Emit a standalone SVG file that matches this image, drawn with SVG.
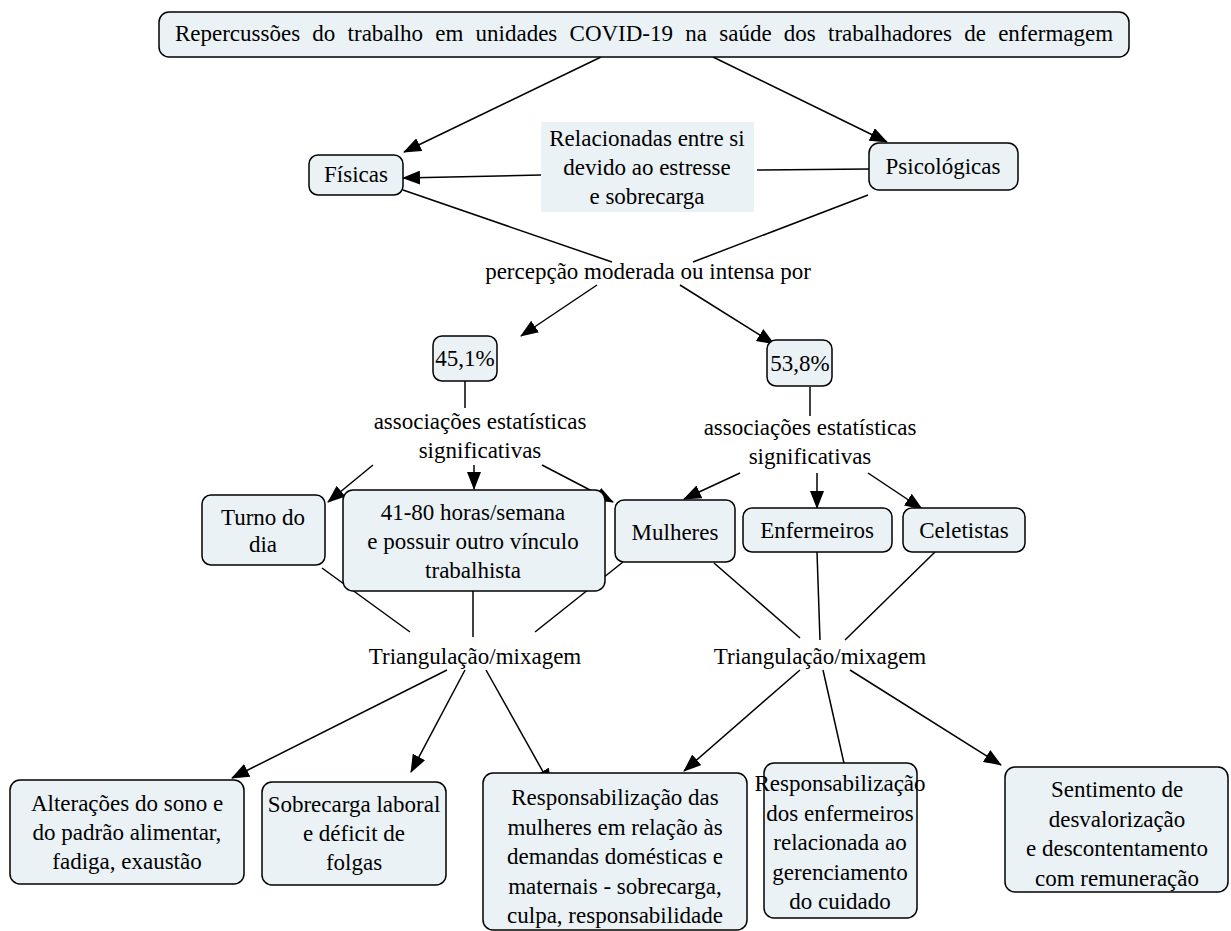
<svg xmlns="http://www.w3.org/2000/svg" width="1231" height="931" viewBox="0 0 1231 931">
<defs>
<marker id="ah" markerUnits="userSpaceOnUse" markerWidth="18" markerHeight="14" refX="17" refY="7" orient="auto">
<path d="M0,0 L18,7 L0,14 Z" fill="#000"/>
</marker>
</defs>
<rect width="1231" height="931" fill="#fff"/>
<g id="connectors" stroke="#000" stroke-width="1.5" fill="none">
<line marker-end="url(#ah)" x1="601" y1="57" x2="404" y2="152"/>
<line marker-end="url(#ah)" x1="713" y1="57" x2="887" y2="142"/>
<line x1="869" y1="169" x2="757" y2="170"/>
<line marker-end="url(#ah)" x1="541" y1="175" x2="403" y2="178"/>
<line x1="403" y1="190" x2="612" y2="262"/>
<line x1="868" y1="195" x2="693" y2="262"/>
<line marker-end="url(#ah)" x1="597" y1="285" x2="521" y2="336"/>
<line marker-end="url(#ah)" x1="680" y1="285" x2="774" y2="344"/>
<line x1="465" y1="381" x2="465" y2="408"/>
<line x1="810" y1="387" x2="810" y2="416"/>
<line marker-end="url(#ah)" x1="373" y1="465" x2="328" y2="502"/>
<line marker-end="url(#ah)" x1="474" y1="465" x2="474" y2="489"/>
<line marker-end="url(#ah)" x1="542" y1="465" x2="613" y2="502"/>
<line marker-end="url(#ah)" x1="740" y1="473" x2="684" y2="499"/>
<line marker-end="url(#ah)" x1="817" y1="473" x2="817" y2="508"/>
<line marker-end="url(#ah)" x1="868" y1="473" x2="922" y2="509"/>
<line x1="322" y1="568" x2="410" y2="632"/>
<line x1="473" y1="590" x2="473" y2="637"/>
<line x1="623" y1="562" x2="535" y2="632"/>
<line x1="714" y1="563" x2="800" y2="638"/>
<line x1="817" y1="552" x2="820" y2="640"/>
<line x1="935" y1="552" x2="845" y2="640"/>
<line marker-end="url(#ah)" x1="447" y1="670" x2="232" y2="778"/>
<line marker-end="url(#ah)" x1="465" y1="670" x2="411" y2="772"/>
<line marker-end="url(#ah)" x1="486" y1="670" x2="551" y2="786"/>
<line marker-end="url(#ah)" x1="800" y1="670" x2="684" y2="771"/>
<line marker-end="url(#ah)" x1="823" y1="670" x2="848" y2="781"/>
<line marker-end="url(#ah)" x1="850" y1="670" x2="1001" y2="765"/>
</g>
<g id="title">
<rect fill="#ebf2f5" stroke="#000" stroke-width="1.5" x="159" y="12" width="970" height="45" rx="10"/>
<text x="644" y="41" style="font-family:'Liberation Serif','Times New Roman',serif;font-size:23px;text-anchor:middle;word-spacing:6.5px">Repercussões do trabalho em unidades COVID-19 na saúde dos trabalhadores de enfermagem</text>
</g>
<g id="fisicas">
<rect fill="#ebf2f5" stroke="#000" stroke-width="1.5" x="309" y="155" width="94" height="40" rx="9"/>
<text x="356" y="182" style="font-family:'Liberation Serif','Times New Roman',serif;font-size:23px;text-anchor:middle">Físicas</text>
</g>
<g id="relacionadas">
<rect x="541" y="122" width="213" height="90" fill="#ebf2f5"/>
<text x="647" y="146" style="font-family:'Liberation Serif','Times New Roman',serif;font-size:23px;text-anchor:middle"><tspan x="647">Relacionadas entre si</tspan><tspan x="647" dy="29">devido ao estresse</tspan><tspan x="647" dy="29">e sobrecarga</tspan></text>
</g>
<g id="psicologicas">
<rect fill="#ebf2f5" stroke="#000" stroke-width="1.5" x="869" y="143" width="149" height="47" rx="10"/>
<text x="943" y="174" style="font-family:'Liberation Serif','Times New Roman',serif;font-size:23px;text-anchor:middle">Psicológicas</text>
</g>
<g id="percepcao">
<text x="648" y="279" style="font-family:'Liberation Serif','Times New Roman',serif;font-size:23px;text-anchor:middle">percepção moderada ou intensa por</text>
</g>
<g id="p451">
<rect fill="#ebf2f5" stroke="#000" stroke-width="1.5" x="433" y="336" width="64" height="45" rx="9"/>
<text x="465" y="366" style="font-family:'Liberation Serif','Times New Roman',serif;font-size:23px;text-anchor:middle">45,1%</text>
</g>
<g id="p538">
<rect fill="#ebf2f5" stroke="#000" stroke-width="1.5" x="767" y="340" width="65" height="46" rx="9"/>
<text x="800" y="371" style="font-family:'Liberation Serif','Times New Roman',serif;font-size:23px;text-anchor:middle">53,8%</text>
</g>
<g id="assoc1">
<text x="480" y="429" style="font-family:'Liberation Serif','Times New Roman',serif;font-size:23px;text-anchor:middle"><tspan x="480">associações estatísticas</tspan><tspan x="480" dy="29">significativas</tspan></text>
</g>
<g id="assoc2">
<text x="810" y="435" style="font-family:'Liberation Serif','Times New Roman',serif;font-size:23px;text-anchor:middle"><tspan x="810">associações estatísticas</tspan><tspan x="810" dy="29">significativas</tspan></text>
</g>
<g id="turno">
<rect fill="#ebf2f5" stroke="#000" stroke-width="1.5" x="202" y="495" width="123" height="70" rx="9"/>
<text x="263" y="525" style="font-family:'Liberation Serif','Times New Roman',serif;font-size:23px;text-anchor:middle"><tspan x="263">Turno do</tspan><tspan x="263" dy="27">dia</tspan></text>
</g>
<g id="horas">
<rect fill="#ebf2f5" stroke="#000" stroke-width="1.5" x="343" y="490" width="262" height="101" rx="10"/>
<text x="473" y="520" style="font-family:'Liberation Serif','Times New Roman',serif;font-size:23px;text-anchor:middle"><tspan x="473">41-80 horas/semana</tspan><tspan x="473" dy="29">e possuir outro vínculo</tspan><tspan x="473" dy="29">trabalhista</tspan></text>
</g>
<g id="mulheres">
<rect fill="#ebf2f5" stroke="#000" stroke-width="1.5" x="615" y="500" width="120" height="62" rx="9"/>
<text x="675" y="540" style="font-family:'Liberation Serif','Times New Roman',serif;font-size:23px;text-anchor:middle">Mulheres</text>
</g>
<g id="enfermeiros">
<rect fill="#ebf2f5" stroke="#000" stroke-width="1.5" x="743" y="508" width="149" height="44" rx="9"/>
<text x="817" y="538" style="font-family:'Liberation Serif','Times New Roman',serif;font-size:23px;text-anchor:middle">Enfermeiros</text>
</g>
<g id="celetistas">
<rect fill="#ebf2f5" stroke="#000" stroke-width="1.5" x="903" y="508" width="122" height="44" rx="9"/>
<text x="964" y="538" style="font-family:'Liberation Serif','Times New Roman',serif;font-size:23px;text-anchor:middle">Celetistas</text>
</g>
<g id="tri1">
<text x="475" y="664" style="font-family:'Liberation Serif','Times New Roman',serif;font-size:23px;text-anchor:middle">Triangulação/mixagem</text>
</g>
<g id="tri2">
<text x="820" y="664" style="font-family:'Liberation Serif','Times New Roman',serif;font-size:23px;text-anchor:middle">Triangulação/mixagem</text>
</g>
<g id="alteracoes">
<rect fill="#ebf2f5" stroke="#000" stroke-width="1.5" x="10" y="780" width="234" height="104" rx="10"/>
<text x="127" y="811" style="font-family:'Liberation Serif','Times New Roman',serif;font-size:23px;text-anchor:middle"><tspan x="127">Alterações do sono e</tspan><tspan x="127" dy="29">do padrão alimentar,</tspan><tspan x="127" dy="29">fadiga, exaustão</tspan></text>
</g>
<g id="sobrecarga">
<rect fill="#ebf2f5" stroke="#000" stroke-width="1.5" x="262" y="782" width="184" height="103" rx="10"/>
<text x="354" y="812" style="font-family:'Liberation Serif','Times New Roman',serif;font-size:23px;text-anchor:middle"><tspan x="354">Sobrecarga laboral</tspan><tspan x="354" dy="29">e déficit de</tspan><tspan x="354" dy="29">folgas</tspan></text>
</g>
<g id="resp_mulheres">
<rect fill="#ebf2f5" stroke="#000" stroke-width="1.5" x="483" y="773" width="264" height="157" rx="10"/>
<text x="615" y="805" style="font-family:'Liberation Serif','Times New Roman',serif;font-size:23px;text-anchor:middle"><tspan x="615">Responsabilização das</tspan><tspan x="615" dy="29.5">mulheres em relação às</tspan><tspan x="615" dy="29.5">demandas domésticas e</tspan><tspan x="615" dy="29.5">maternais - sobrecarga,</tspan><tspan x="615" dy="29.5">culpa, responsabilidade</tspan></text>
</g>
<g id="resp_enfermeiros">
<rect fill="#ebf2f5" stroke="#000" stroke-width="1.5" x="764" y="763" width="153" height="155" rx="10"/>
<text x="840" y="791" style="font-family:'Liberation Serif','Times New Roman',serif;font-size:23px;text-anchor:middle"><tspan x="840">Responsabilização</tspan><tspan x="840" dy="29.5">dos enfermeiros</tspan><tspan x="840" dy="29.5">relacionada ao</tspan><tspan x="840" dy="29.5">gerenciamento</tspan><tspan x="840" dy="29.5">do cuidado</tspan></text>
</g>
<g id="sentimento">
<rect fill="#ebf2f5" stroke="#000" stroke-width="1.5" x="1005" y="767" width="223" height="125" rx="10"/>
<text x="1117" y="797" style="font-family:'Liberation Serif','Times New Roman',serif;font-size:23px;text-anchor:middle"><tspan x="1117">Sentimento de</tspan><tspan x="1117" dy="29.7">desvalorização</tspan><tspan x="1117" dy="29.7">e descontentamento</tspan><tspan x="1117" dy="29.7">com remuneração</tspan></text>
</g>
</svg>
